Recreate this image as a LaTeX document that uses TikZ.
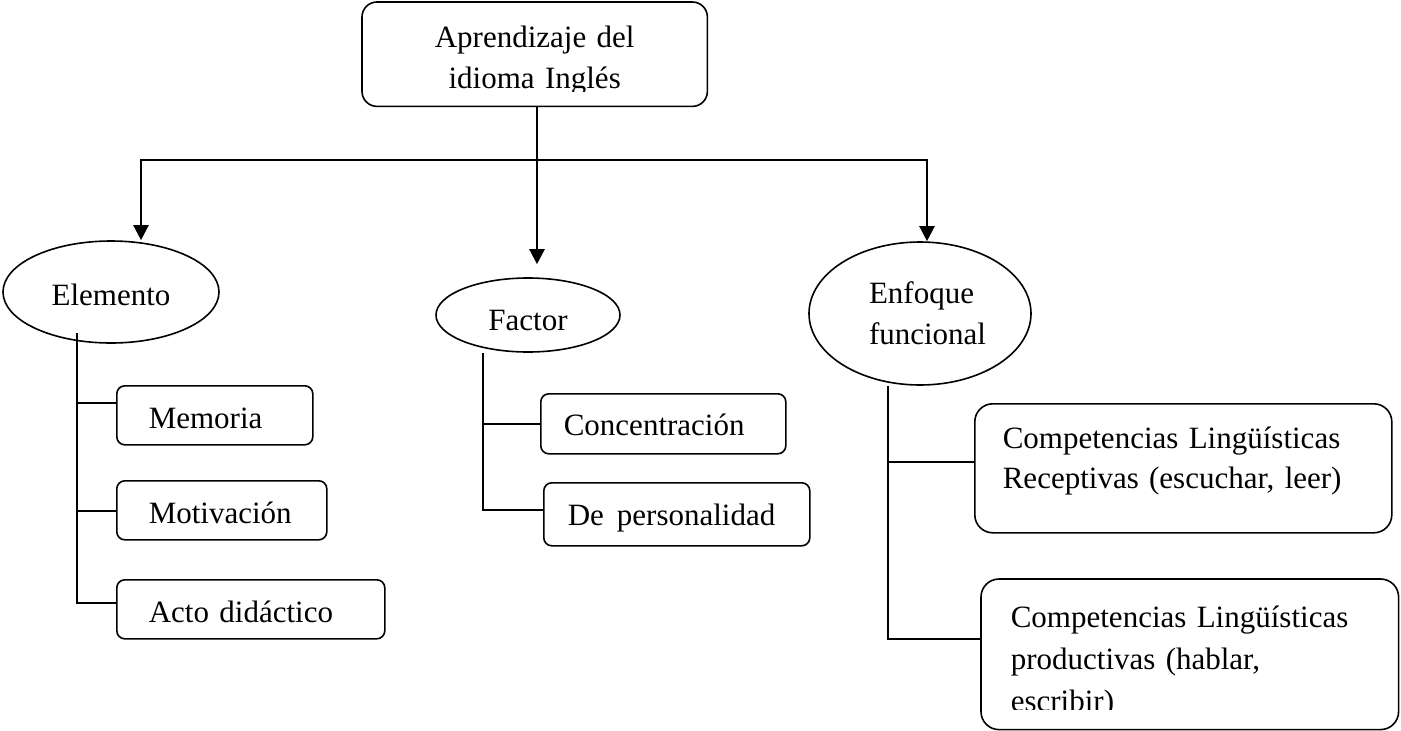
\documentclass[tikz,border=0pt]{standalone}
\usepackage{fontspec}
\setmainfont{Liberation Serif}
\usetikzlibrary{arrows.meta,shapes.geometric}
\newcommand{\fsz}{\fontsize{31pt}{41pt}\selectfont}
\begin{document}
\begin{tikzpicture}[x=1pt,y=-1pt,
  bx/.style={draw, line width=1.6pt, rounded corners=8pt, anchor=north west, inner ysep=0pt, align=left, font=\fsz},
  el/.style={draw, line width=1.6pt, ellipse, inner sep=0pt, font=\fsz},
  br/.style={line width=1.6pt},
  tip/.tip={Triangle[length=15pt,width=15pt]},
  arr/.style={line width=2.4pt, -tip},
  arrb/.style={line width=2.2pt, tip-tip}]
\useasboundingbox (0,0) rectangle (1401,731);

% top box (text clipped at the bottom)
\begin{scope}
\clip (350,-5) rectangle (720,91);
\node[anchor=north west, inner sep=0pt, minimum width=345pt, minimum height=104pt,
  text width=345pt, align=center, font=\fsz, text height=21pt, text depth=35pt]
  (top) at (362,2) {Aprendizaje del\\idioma Inglés};
\end{scope}
\draw[line width=1.6pt, rounded corners=15pt] (top.north west) rectangle (top.south east);

% ellipses
\node[el, minimum width=216pt, minimum height=102pt, text height=26pt, text depth=0pt]
  (ele) at (111,292) {Elemento};
\node[el, minimum width=184pt, minimum height=74pt, text height=30pt, text depth=0pt]
  (fac) at (528,315) {Factor};
\node[el, minimum width=222pt, minimum height=143pt, text width=140pt, align=left,
  text height=21pt, text depth=42pt]
  (enf) at (920,313.5) {\hspace*{19pt}Enfoque\\\hspace*{19pt}funcional};

% left boxes
\node[bx, minimum width=196pt, minimum height=59pt, inner xsep=32pt, text width=132pt,
  text height=26pt, text depth=0pt] (mem) at (116,385) {Memoria};
\node[bx, minimum width=210pt, minimum height=59pt, inner xsep=32pt, text width=146pt,
  text height=26pt, text depth=0pt] (mot) at (116,480) {Motivación};
\node[bx, minimum width=268pt, minimum height=59pt, inner xsep=32pt, text width=204pt,
  text height=27pt, text depth=0pt] (act) at (116,579) {Acto didáctico};

% middle boxes
\node[bx, minimum width=245pt, minimum height=60pt, inner xsep=23pt, text width=199pt,
  text height=24pt, text depth=0pt] (con) at (540,393) {Concentración};
\node[bx, minimum width=266pt, minimum height=63pt, inner xsep=24pt, text width=218pt,
  text height=23pt, text depth=0pt] (per) at (543,482) {\mbox{De\hspace{13pt}personalidad}};

% right boxes
\node[bx, rounded corners=18pt, minimum width=417pt, minimum height=129pt, inner xsep=28pt,
  text width=361pt, font=\fontsize{31pt}{40pt}\selectfont, text height=21pt, text depth=60pt]
  (rec) at (974,403) {Competencias Lingüísticas\\Receptivas (escuchar, leer)};
\begin{scope}
\clip (970,570) rectangle (1410,709);
\node[bx, draw=none, minimum width=416pt, minimum height=149pt, inner xsep=29pt,
  text width=358pt, font=\fontsize{31pt}{42pt}\selectfont, text height=21pt, text depth=74pt]
  (pro) at (981,579) {Competencias Lingüísticas\\productivas (hablar,\\escribir)};
\end{scope}
\draw[line width=1.6pt, rounded corners=18pt] (pro.north west) rectangle (pro.south east);

% main connectors
\coordinate (j) at (537,160);
\coordinate (L) at (141,160);
\coordinate (R) at (927,160);
\draw[arrb] (L |- ele.north) -- (L) -- (R) -- (R |- enf.north);
\draw[arr, shorten >=13pt] (top.south -| j) -- (j |- fac.north);

% Elemento branches
\coordinate (e0) at (77,333);
\coordinate (e1) at (77,403);
\coordinate (e2) at (77,511);
\coordinate (e3) at (77,603);
\draw[br] (e0) -- (e3) -- (e3 -| act.west);
\draw[br] (e1) -- (e1 -| mem.west);
\draw[br] (e2) -- (e2 -| mot.west);

% Factor branches
\coordinate (f0) at (483,353);
\coordinate (f1) at (483,424);
\coordinate (f2) at (483,510);
\draw[br] (f0) -- (f2) -- (f2 -| per.west);
\draw[br] (f1) -- (f1 -| con.west);

% Enfoque branches
\coordinate (n0) at (888,386);
\coordinate (n1) at (888,462);
\coordinate (n2) at (888,639);
\draw[br] (n0) -- (n2) -- (n2 -| pro.west);
\draw[br] (n1) -- (n1 -| rec.west);
\end{tikzpicture}
\end{document}
